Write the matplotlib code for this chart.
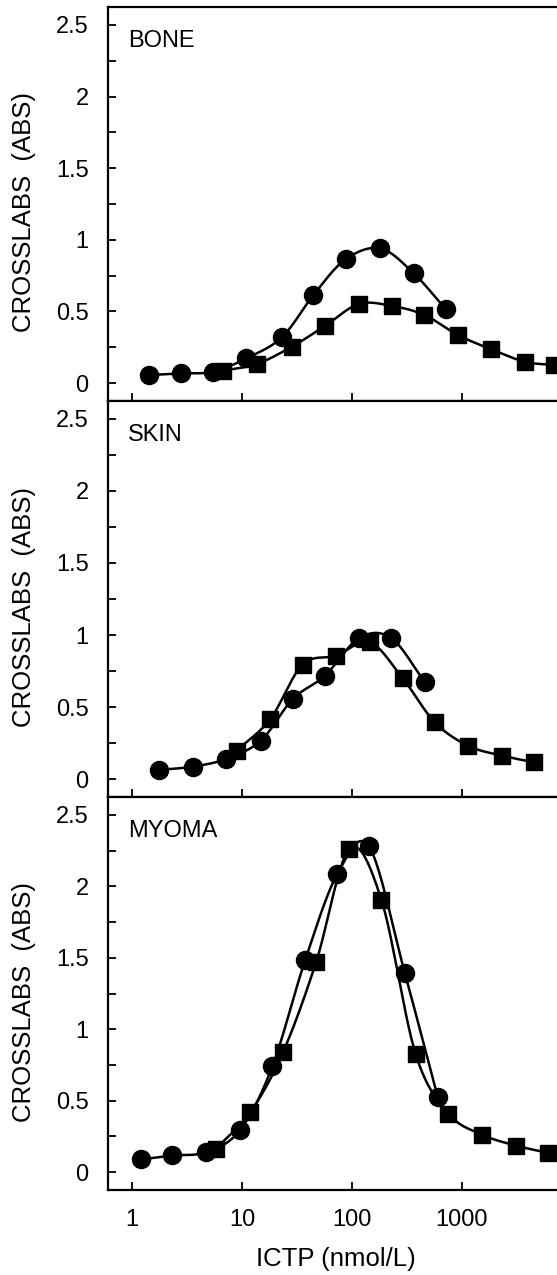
import numpy as np
import matplotlib
matplotlib.use("Agg")
import matplotlib.pyplot as plt
from matplotlib.ticker import FixedLocator, MultipleLocator, FuncFormatter, NullLocator

plt.rcParams['font.family'] = ['Liberation Sans', 'DejaVu Sans']

# ---------------- data ----------------
panel_names = ["BONE", "SKIN", "MYOMA"]

bone_circle_x = [1.43, 2.78, 5.45, 10.9, 23.0, 44.6, 87.5, 181, 364, 715]
bone_circle_y = [0.056, 0.068, 0.079, 0.172, 0.319, 0.615, 0.864, 0.94, 0.766, 0.514]
bone_square_x = [6.67, 13.6, 28.4, 56.6, 115.5, 232, 456, 922, 1854, 3720, 6890]
bone_square_y = [0.086, 0.133, 0.254, 0.398, 0.552, 0.538, 0.475, 0.335, 0.235, 0.149, 0.126]

skin_circle_x = [1.75, 3.57, 7.16, 14.8, 29.0, 56.9, 116, 227, 462]
skin_circle_y = [0.0625, 0.086, 0.139, 0.266, 0.556, 0.718, 0.979, 0.979, 0.671]
skin_square_x = [8.96, 18.1, 35.5, 71.2, 145, 288, 566, 1135, 2312, 4530]
skin_square_y = [0.197, 0.417, 0.794, 0.856, 0.949, 0.701, 0.394, 0.231, 0.162, 0.116]

myoma_circle_x = [1.2, 2.31, 4.72, 9.6, 18.9, 37.6, 73.8, 142.6, 302, 601]
myoma_circle_y = [0.0885, 0.1165, 0.14, 0.294, 0.741, 1.486, 2.088, 2.279, 1.393, 0.527]
myoma_square_x = [5.77, 11.9, 23.6, 47.1, 94.5, 185, 378, 753, 1511, 3080, 6040]
myoma_square_y = [0.163, 0.419, 0.839, 1.468, 2.26, 1.906, 0.829, 0.41, 0.263, 0.186, 0.135]

x_ticks = [1, 10, 100, 1000]
x_tick_labels = ["1", "10", "100", "1000"]
y_label = "CROSSLABS  (ABS)"
x_label = "ICTP (nmol/L)"

series = [
    (bone_circle_x, bone_circle_y, bone_square_x, bone_square_y),
    (skin_circle_x, skin_circle_y, skin_square_x, skin_square_y),
    (myoma_circle_x, myoma_circle_y, myoma_square_x, myoma_square_y),
]

W, H = 557, 1275
panel_px = [(7, 401), (401, 797), (797, 1190)]
left_px = 108
one_px = 132
decade_px = 110
unit_px = 143.5


def smooth(xs, ys, n=24):
    """Catmull-Rom curve through the points, in screen-proportional space (line rendering only)."""
    P = np.column_stack([np.log10(xs) * decade_px, np.asarray(ys, float) * unit_px])
    P = np.vstack([2 * P[0] - P[1], P, 2 * P[-1] - P[-2]])
    t = np.linspace(0, 1, n, endpoint=False)[:, None]
    out = []
    for i in range(1, len(P) - 2):
        p0, p1, p2, p3 = P[i - 1], P[i], P[i + 1], P[i + 2]
        seg = 0.5 * (2 * p1 + (-p0 + p2) * t + (2 * p0 - 5 * p1 + 4 * p2 - p3) * t ** 2
                     + (-p0 + 3 * p1 - 3 * p2 + p3) * t ** 3)
        out.append(seg)
    out.append(P[-2][None, :])
    out = np.vstack(out)
    return 10 ** (out[:, 0] / decade_px), out[:, 1] / unit_px


fig = plt.figure(figsize=(W / 100, H / 100), dpi=100)

xmin = 10 ** (-(one_px - left_px) / decade_px)
xmax = 10 ** ((W - one_px) / decade_px)

yfmt = FuncFormatter(lambda v, p: ('%g' % round(v, 2)) if abs(v * 2 - round(v * 2)) < 1e-6 else '')

for i, ((top, bot), name, (cx, cy, sx, sy)) in enumerate(zip(panel_px, panel_names, series)):
    ax = fig.add_axes([left_px / W, 1 - bot / H, (W - left_px) / W, (bot - top) / H])
    ax.set_xscale('log')
    ax.set_xlim(xmin, xmax)
    ax.set_ylim(-0.125, 2.625)

    lx, ly = smooth(cx, cy)
    ax.plot(lx, ly, color='black', lw=1.8, zorder=2)
    lx, ly = smooth(sx, sy)
    ax.plot(lx, ly, color='black', lw=1.8, zorder=2)
    ax.plot(cx, cy, 'o', color='black', ms=13, zorder=3, clip_on=False)
    ax.plot(sx, sy, 's', color='black', ms=12, zorder=3, clip_on=True)

    ax.spines['right'].set_visible(False)
    for s in ('left', 'top', 'bottom'):
        ax.spines[s].set_linewidth(1.6)

    ax.xaxis.set_major_locator(FixedLocator(x_ticks))
    ax.xaxis.set_minor_locator(NullLocator())
    if i == 2:
        ax.set_xticklabels(x_tick_labels)
    else:
        ax.set_xticklabels([])
    ax.yaxis.set_major_locator(MultipleLocator(0.25))
    ax.yaxis.set_major_formatter(yfmt)
    ax.yaxis.set_minor_locator(NullLocator())

    ax.tick_params(axis='x', which='both', direction='in', length=5.8, width=1.3,
                   top=False, bottom=True, labelsize=17, pad=14)
    ax.tick_params(axis='y', which='both', direction='in', length=5.5, width=1.3,
                   left=True, right=False, labelsize=17, pad=14)

    ax.text(20 / (W - left_px), 1 - 23 / (bot - top), name, transform=ax.transAxes,
            ha='left', va='top', fontsize=17)

    cy_px = (top + bot) / 2 + 8
    fig.text(24 / W, 1 - cy_px / H, y_label, rotation=90, ha='center', va='center',
             fontsize=18.5)

fig.text(336 / W, 1 - 1259 / H, x_label, ha='center', va='center', fontsize=18.5)

fig.savefig('out.png', dpi=100)
